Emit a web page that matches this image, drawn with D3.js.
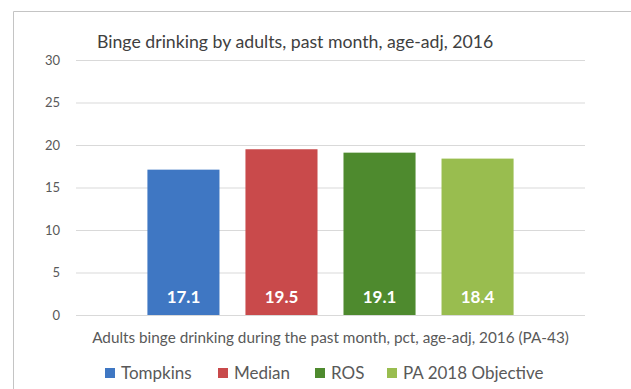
<!DOCTYPE html>
<html>
<head>
<meta charset="utf-8">
<script src="https://cdnjs.cloudflare.com/ajax/libs/d3/7.8.5/d3.min.js"></script>
<style>
  html, body { margin: 0; padding: 0; background: #fff; }
  svg { display: block; font-family: Lato, "Noto Sans", sans-serif; }
</style>
</head>
<body>
<svg id="chart" width="631" height="389"></svg>
<script>
// Chart data
const title = "Binge drinking by adults, past month, age-adj, 2016";
const categories = ["Adults binge drinking during the past month, pct, age-adj, 2016 (PA-43)"];
const seriesNames = ["Tompkins", "Median", "ROS", "PA 2018 Objective"];
const seriesValues = [17.1, 19.5, 19.1, 18.4];
const yTicks = [0, 5, 10, 15, 20, 25, 30];
const seriesColors = ["#3f77c3", "#c94a4b", "#4e8a2e", "#99bd4f"];

const svg = d3.select("#chart");

// Chart frame (top and left edges of the chart area)
svg.append("path")
  .attr("d", "M13.5,389 V11.5 H631")
  .attr("fill", "none")
  .attr("stroke", "#c4c4c4")
  .attr("stroke-width", 1);

const plot = { left: 76, right: 585, top: 60, bottom: 315 };

const y = d3.scaleLinear().domain([0, 30]).range([plot.bottom, plot.top]);

const x0 = d3.scaleBand()
  .domain(categories)
  .range([plot.left, plot.right])
  .paddingInner(0)
  .paddingOuter(0.149);

const x1 = d3.scaleBand()
  .domain(seriesNames)
  .range([0, x0.bandwidth()])
  .paddingInner(0.265)
  .paddingOuter(0.1325);

// Horizontal gridlines and y tick labels
const yAxis = d3.axisLeft(y)
  .tickValues(yTicks)
  .tickSize(-(plot.right - plot.left))
  .tickPadding(16)
  .tickFormat(d3.format("d"));

const gAxis = svg.append("g")
  .attr("transform", `translate(${plot.left},0)`)
  .call(yAxis);
gAxis.select(".domain").remove();
gAxis.selectAll(".tick line").attr("stroke", "#d9d9d9");
gAxis.selectAll(".tick text")
  .attr("fill", "#595959")
  .style("font-size", "13px")
  .style("font-family", "Lato, sans-serif");

// Bars
const rows = seriesNames.map((name, i) => ({ name, value: seriesValues[i], color: seriesColors[i] }));

const group = svg.append("g")
  .attr("transform", `translate(${x0(categories[0])},0)`);

group.selectAll("rect")
  .data(rows)
  .join("rect")
  .attr("x", d => x1(d.name))
  .attr("y", d => y(d.value))
  .attr("width", x1.bandwidth())
  .attr("height", d => y(0) - y(d.value))
  .attr("fill", d => d.color);

// Value labels at the inside base of each bar
group.selectAll("text.value")
  .data(rows)
  .join("text")
  .attr("class", "value")
  .attr("x", d => x1(d.name) + x1.bandwidth() / 2)
  .attr("y", y(0) - 12)
  .attr("text-anchor", "middle")
  .attr("fill", "#ffffff")
  .style("font-size", "17px")
  .style("font-weight", "bold")
  .text(d => d.value.toFixed(1));

// Title
svg.append("text")
  .attr("x", 97)
  .attr("y", 48)
  .attr("fill", "#404040")
  .style("font-size", "17.7px")
  .text(title);

// Category axis label
svg.append("text")
  .attr("x", x0(categories[0]) + x0.bandwidth() / 2)
  .attr("y", 343)
  .attr("text-anchor", "middle")
  .attr("fill", "#595959")
  .style("font-size", "15.3px")
  .text(categories[0]);

// Legend
const legendX = [105, 218, 315, 387];
const legend = svg.append("g");
const items = legend.selectAll("g")
  .data(rows)
  .join("g")
  .attr("transform", (d, i) => `translate(${legendX[i]},373)`);
items.append("rect")
  .attr("x", 0).attr("y", -5)
  .attr("width", 10).attr("height", 10)
  .attr("fill", d => d.color);
items.append("text")
  .attr("x", 16)
  .attr("y", 0)
  .attr("dy", "0.36em")
  .attr("fill", "#595959")
  .style("font-size", "17px")
  .text(d => d.name);
</script>
</body>
</html>
